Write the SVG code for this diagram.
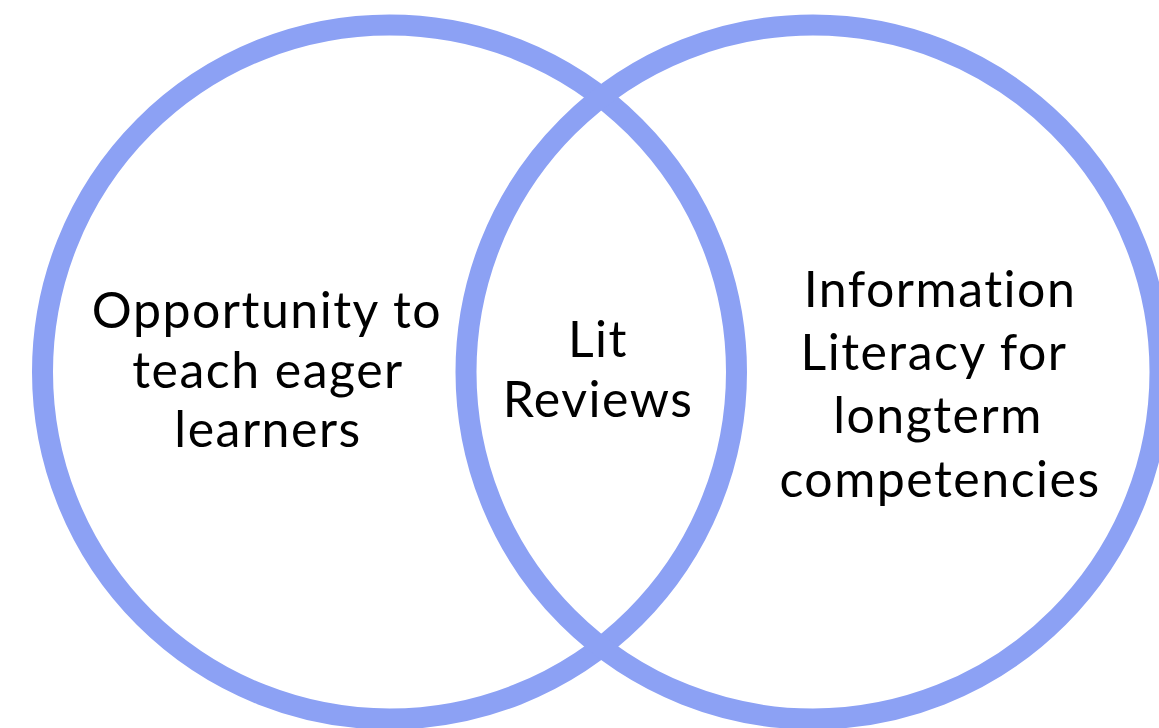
<svg xmlns="http://www.w3.org/2000/svg" width="1159" height="728" viewBox="0 0 1159 728">
<style>
.ring{fill:none;stroke:#8ca1f4;stroke-width:21}
.lbl{font-family:Lato,"Liberation Sans",sans-serif;font-size:50px;font-weight:400;letter-spacing:1.5px;fill:#000;text-anchor:middle}
</style>
<rect width="1159" height="728" fill="#fff"/>
<g id="left-circle">
<circle class="ring" cx="389.5" cy="372" r="347"/>
<text class="lbl" x="267" y="328">Opportunity to</text>
<text class="lbl" x="268" y="388">teach eager</text>
<text class="lbl" x="268" y="447">learners</text>
</g>
<g id="right-circle">
<circle class="ring" cx="813" cy="372" r="347"/>
<text class="lbl" x="940" y="307">Information</text>
<text class="lbl" x="934" y="370">Literacy for</text>
<text class="lbl" x="938" y="433">longterm</text>
<text class="lbl" x="940" y="497">competencies</text>
</g>
<g id="overlap">
<text class="lbl" x="598" y="357">Lit</text>
<text class="lbl" x="598" y="417">Reviews</text>
</g>
<g id="connectors"></g>
</svg>
